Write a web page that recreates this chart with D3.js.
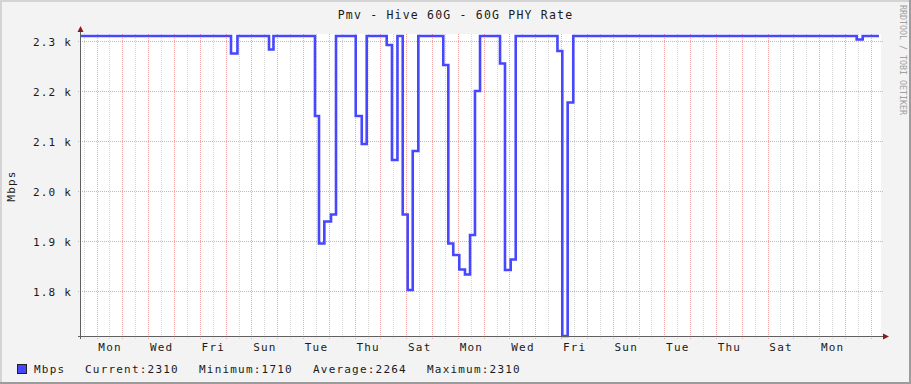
<!DOCTYPE html>
<html>
<head>
<meta charset="utf-8">
<script src="https://cdn.jsdelivr.net/npm/d3@7"></script>
<style>
    body { margin: 0; background: #f3f3f3; }
    svg { display: block; }
    text { font-family: "DejaVu Sans Mono", monospace; fill: #1a1a1a; }
</style>
</head>
<body>
<svg class="rrd"></svg>
<script>
// step series: each value holds from its time until the next one
const sampleTimes = [
    "2023-01-01T09:30", "2023-01-07T05:00", "2023-01-07T11:00", "2023-01-08T16:20", "2023-01-08T20:30",
    "2023-01-10T11:06", "2023-01-10T14:50", "2023-01-10T19:48", "2023-01-11T02:00", "2023-01-11T06:40",
    "2023-01-12T01:00", "2023-01-12T06:36", "2023-01-12T11:12", "2023-01-13T05:48", "2023-01-13T10:42",
    "2023-01-13T15:48", "2023-01-13T20:42", "2023-01-14T01:18", "2023-01-14T06:00", "2023-01-14T11:12",
    "2023-01-15T10:24", "2023-01-15T15:06", "2023-01-15T19:42", "2023-01-16T01:18", "2023-01-16T06:36",
    "2023-01-16T11:18", "2023-01-16T15:54", "2023-01-16T20:36", "2023-01-17T15:12", "2023-01-17T19:48",
    "2023-01-18T01:06", "2023-01-18T05:48", "2023-01-19T20:36", "2023-01-20T01:06", "2023-01-20T06:06",
    "2023-01-20T11:18", "2023-01-31T10:54", "2023-01-31T16:30", "2023-02-01T07:36"
];
const sampleValues = [
    2310, 2275, 2310, 2283, 2310,
    2150, 1895, 1939, 1953, 2310,
    2150, 2094, 2310, 2292, 2062,
    2310, 1953, 1802, 2080, 2310,
    2252, 1895, 1872, 1843, 1833,
    1912, 2200, 2310, 2255, 1842,
    1863, 2310, 2280, 1710, 2177,
    2310, 2303, 2310, 2310
];
const yTicks = [1800, 1900, 2000, 2100, 2200, 2300];
const legendNames = ["Current", "Minimum", "Average", "Maximum"];
const legendValues = [2310, 1710, 2264, 2310];
const seriesName = "Mbps";
const chartTitle = "Pmv - Hive 60G - 60G PHY Rate";

(function () {
    const width = 911, height = 384;
    const plot = { left: 81, top: 36, width: 800, height: 300 };
    const lineColour = "#4747ff";
    const parseTime = d3.utcParse("%Y-%m-%dT%H:%M");

    let data = sampleTimes.map(function (t, i) { return { date: parseTime(t), value: sampleValues[i] }; });

    let svg = d3.select("svg.rrd")
        .attr("width", width)
        .attr("height", height);

    // frame
    svg.append("rect").attr("width", width).attr("height", height).attr("fill", "#f3f3f3");
    svg.append("path").attr("d", "M1,383V1H910").attr("fill", "none").attr("stroke", "#d4d4d4").attr("stroke-width", 2);
    svg.append("path").attr("d", "M0,383H910V0").attr("fill", "none").attr("stroke", "#9c9c9c").attr("stroke-width", 2);

    let x = d3.scaleUtc()
        .domain([parseTime("2023-01-01T09:30"), parseTime("2023-02-01T09:30")])
        .range([plot.left, plot.left + plot.width]);
    let y = d3.scaleLinear()
        .domain([1710, 2310])
        .range([plot.top + plot.height, plot.top]);

    svg.append("rect")
        .attr("x", plot.left).attr("y", plot.top - 2)
        .attr("width", plot.width).attr("height", plot.height + 2)
        .attr("fill", "#fff");

    let grid = svg.append("g").attr("shape-rendering", "crispEdges");
    let halfDays = d3.utcHour.every(12).range(x.domain()[0], x.domain()[1]);
    grid.selectAll(".vgrid")
        .data(halfDays)
        .enter().append("line")
        .attr("class", "vgrid")
        .attr("x1", function (d) { return Math.round(x(d)) + 0.5; })
        .attr("x2", function (d) { return Math.round(x(d)) + 0.5; })
        .attr("y1", plot.top - 2)
        .attr("y2", plot.top + plot.height + 3)
        .attr("stroke", function (d) { return d.getUTCHours() == 0 ? "#f2a6a6" : "#d6d6d6"; })
        .attr("stroke-dasharray", "1,1");

    grid.selectAll(".hgrid")
        .data(yTicks)
        .enter().append("line")
        .attr("class", "hgrid")
        .attr("x1", plot.left - 3)
        .attr("x2", plot.left + plot.width + 2)
        .attr("y1", function (d) { return Math.round(y(d)) + 0.5; })
        .attr("y2", function (d) { return Math.round(y(d)) + 0.5; })
        .attr("stroke", "#f2a6a6")
        .attr("stroke-dasharray", "1,1");

    // series
    let line = d3.line()
        .x(function (d) { return x(d.date); })
        .y(function (d) { return y(d.value); })
        .curve(d3.curveStepAfter);
    svg.append("path")
        .datum(data)
        .attr("d", line)
        .attr("fill", "none")
        .attr("stroke", lineColour)
        .attr("stroke-width", 2.6);

    // axes
    let axisY = plot.top + plot.height + 0.5;
    svg.append("line")
        .attr("x1", plot.left - 3).attr("x2", plot.left + plot.width + 2)
        .attr("y1", axisY).attr("y2", axisY)
        .attr("stroke", "#606060");
    svg.append("line")
        .attr("x1", plot.left - 0.5).attr("x2", plot.left - 0.5)
        .attr("y1", plot.top - 4).attr("y2", plot.top + plot.height + 3)
        .attr("stroke", "#606060");
    svg.append("path")
        .attr("d", "M" + (plot.left + plot.width + 2) + "," + (axisY - 3) + "l6,3l-6,3z")
        .attr("fill", "#8b1a1a");
    svg.append("path")
        .attr("d", "M" + (plot.left - 3.5) + "," + (plot.top - 4) + "l3,-6l3,6z")
        .attr("fill", "#8b1a1a");

    let labelDays = d3.utcDay.range(parseTime("2023-01-02T00:00"), x.domain()[1], 2)
        .map(function (d) { return d3.utcHour.offset(d, 12); })
        .filter(function (d) { return d < x.domain()[1]; });
    svg.append("g").selectAll("text")
        .data(labelDays)
        .enter().append("text")
        .attr("x", function (d) { return x(d) + 0.6; })
        .attr("y", 351)
        .attr("text-anchor", "middle")
        .style("font-size", "11px")
        .style("letter-spacing", "1.2px")
        .text(d3.utcFormat("%a"));

    svg.append("g").selectAll("text")
        .data(yTicks)
        .enter().append("text")
        .attr("x", 72)
        .attr("y", function (d) { return y(d) + 4.5; })
        .attr("text-anchor", "end")
        .style("font-size", "11px")
        .style("letter-spacing", "1.2px")
        .text(function (d) { return (d / 1000).toFixed(1) + " k"; });

    svg.append("text")
        .attr("transform", "translate(15," + (plot.top + plot.height / 2) + ") rotate(-90)")
        .attr("text-anchor", "middle")
        .style("font-size", "11px")
        .style("letter-spacing", "1.2px")
        .text(seriesName);

    svg.append("text")
        .attr("x", width / 2)
        .attr("y", 19)
        .attr("text-anchor", "middle")
        .style("font-size", "11.5px")
        .style("letter-spacing", "1.2px")
        .text(chartTitle);

    svg.append("text")
        .attr("transform", "translate(900,5) rotate(90)")
        .style("font-size", "8.3px")
        .style("fill", "#a0a0a0")
        .text("RRDTOOL / TOBI OETIKER");

    // legend
    let legend = svg.append("g").attr("transform", "translate(17,373)");
    legend.append("rect")
        .attr("x", 0.5).attr("y", -8.5)
        .attr("width", 9).attr("height", 9)
        .attr("fill", lineColour)
        .attr("stroke", "#202020");
    legend.append("text")
        .attr("x", 17)
        .style("font-size", "11px")
        .style("letter-spacing", "1.2px")
        .text(seriesName);
    let legendX = [68, 182, 296, 410];
    legend.selectAll(".stat")
        .data(legendNames)
        .enter().append("text")
        .attr("class", "stat")
        .attr("x", function (d, i) { return legendX[i]; })
        .style("font-size", "11px")
        .style("letter-spacing", "1.2px")
        .text(function (d, i) { return d + ":" + legendValues[i]; });
}());
</script>
</body>
</html>
